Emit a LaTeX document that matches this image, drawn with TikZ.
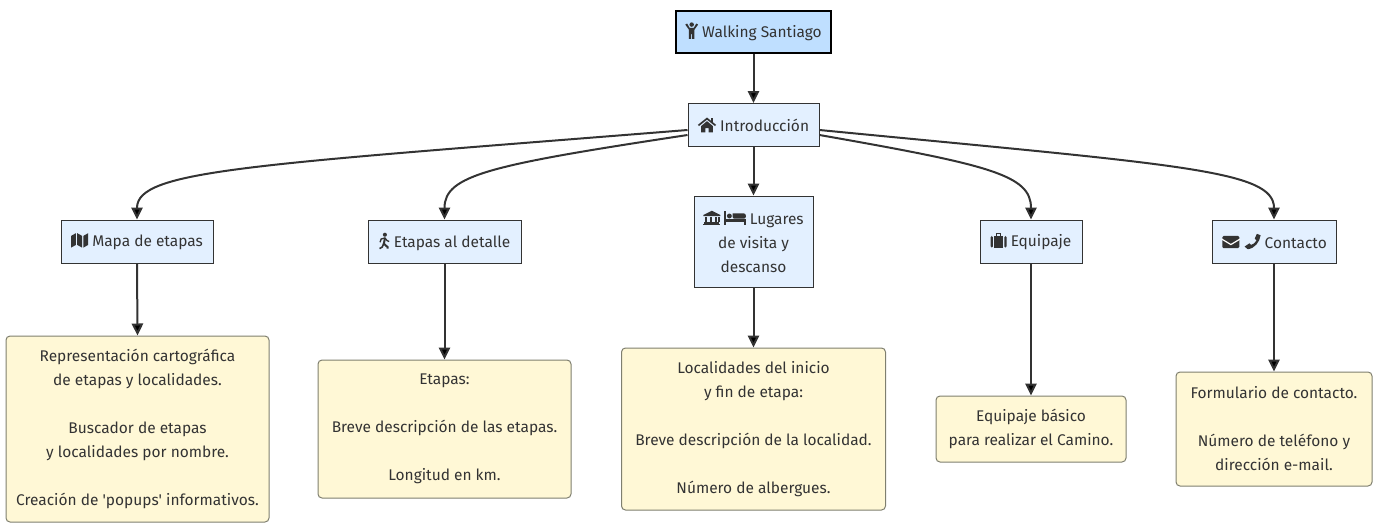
\documentclass[tikz,border=0pt]{standalone}
\usepackage{fontspec}
\setmainfont{Fira Sans}
\usetikzlibrary{arrows.meta}

\definecolor{tinta}{HTML}{333333}
\definecolor{azul}{HTML}{BFDFFF}
\definecolor{celeste}{HTML}{E3F0FF}
\definecolor{crema}{HTML}{FFF8D6}
\definecolor{borde}{HTML}{7F7F6F}

\tikzset{
    every node/.style={text=tinta, font=\fontsize{11.6}{18}\selectfont, align=center, inner sep=0pt},
    titulo/.style={draw=black, line width=1.5pt, fill=azul, minimum width=116.25pt, minimum height=31.5pt},
    seccion/.style={draw=tinta, line width=0.75pt, fill=celeste, minimum height=32.25pt},
    nota/.style={draw=borde, line width=0.75pt, fill=crema, rounded corners=3pt, execute at begin node={\rule{0pt}{12pt}}},
    flecha/.style={draw=tinta, line width=1.5pt, -{Triangle[length=9pt,width=8.5pt]}},
    icono/.style={x=0.8pt, y=0.8pt, baseline=0pt, tinta, fill=tinta}
}

% iconos
\newcommand{\icpersona}{\tikz[icono]{
    \fill (6,12) circle (2.1);
    \fill (0,12)--(1.7,13)--(4,9)--(8,9)--(10.3,13)--(12,12)--(8.6,7.2)--(8.6,-1.5)--(6.5,-1.5)--(6.5,3)--(5.5,3)--(5.5,-1.5)--(3.4,-1.5)--(3.4,7.2)--cycle;
}}
\newcommand{\iccasa}{\tikz[icono]{
    \fill (0,6.2)--(8.5,13)--(17,6.2)--(16,5)--(8.5,11)--(1,5)--cycle;
    \fill (3,5)--(8.5,9.6)--(14,5)--(14,-1)--(10,-1)--(10,3)--(7,3)--(7,-1)--(3,-1)--cycle;
    \fill (12,13)--(14,13)--(14,9)--(12,9)--cycle;
}}
\newcommand{\icmapa}{\tikz[icono]{
    \fill (0,-1)--(0,10)--(4.5,12.5)--(4.5,1.5)--cycle;
    \fill (5.7,1.5)--(5.7,12.5)--(10.3,10)--(10.3,-1)--cycle;
    \fill (11.5,-1)--(11.5,10)--(16,12.5)--(16,1.5)--cycle;
}}
\newcommand{\icandar}{\tikz[icono]{
    \fill (6,11.5) circle (1.9);
    \draw[line width=1.5pt] (6,8)--(5,3)--(8.5,0)--(8.5,-1.5);
    \draw[line width=1.2pt] (5,3.5)--(3.5,0)--(1,-1.5);
    \draw[line width=1pt] (1.5,4.5)--(2.5,7.5)--(6,8.5)--(8,6)--(10,5.2);
}}
\newcommand{\icmuseo}{\tikz[icono]{
    \fill (0,8.5)--(8,12.5)--(16,8.5)--(16,7.5)--(0,7.5)--cycle;
    \foreach \c in {2,6.5,11,14} {\fill (\c-0.1,2)  rectangle +(1.5,5);}
    \fill (1,0.5) rectangle (15,1.7);
    \fill (0,-1) rectangle (16,0);
}}
\newcommand{\iccama}{\tikz[icono]{
    \fill (0,-1) rectangle (1.6,12);
    \fill (4.6,7.6) circle (2.3);
    \fill (7.6,5) -- (7.6,10) -- (17,10) [rounded corners=1.5pt] -- (20,10) -- (20,5) -- cycle;
    \fill (1.6,2) rectangle (20,4.6);
    \fill (18.4,-1) rectangle (20,2);
}}
\newcommand{\icmaleta}{\tikz[icono]{
    \draw[line width=1pt] (5.5,10)--(5.5,12)--(9.5,12)--(9.5,10);
    \fill[rounded corners=1pt] (0,-1) rectangle (2.2,10);
    \fill (3.2,-1) rectangle (11.8,10);
    \fill[rounded corners=1pt] (12.8,-1) rectangle (15,10);
}}
\newcommand{\icsobre}{\tikz[icono]{
    \fill[rounded corners=1pt] (0,0) rectangle (16,11.5);
    \draw[white, line width=0.9pt] (-0.5,8.5)--(8,3.4)--(16.5,8.5);
}}
\newcommand{\ictelefono}{\tikz[icono]{
    \fill (0,1.5)--(3,-1) .. controls (10,0) and (14,6) .. (15,12)--(11.5,13.5)--(9.5,9)--(11.2,7.3) .. controls (10,5) and (8,3.5) .. (6,3)--(4.5,4.5)--cycle;
}}

\begin{document}
\begin{tikzpicture}[x=0.75pt, y=-0.75pt]
\useasboundingbox (0, 0) rectangle (1373, 529);

\node[titulo] (walk) at (753.5, 31.5) {\icpersona\ Walking Santiago};
\node[seccion, minimum width=98.25pt] (intro) at (753.5, 125) {\iccasa\ Introducción};

\node[seccion, minimum width=114pt] (mapa) at (137, 241.5) {\icmapa\ Mapa de etapas};
\node[seccion, minimum width=114.75pt] (etapas) at (444.5, 241.5) {\icandar\ Etapas al detalle};
\node[seccion, minimum width=89.25pt, minimum height=68.25pt] (lugares) at (753.5, 241.5)
    {\icmuseo\ \iccama\ Lugares\\de visita y\\descanso};
\node[seccion, minimum width=76.5pt] (equipaje) at (1031, 241.5) {\icmaleta\ Equipaje};
\node[seccion, minimum width=93pt] (contacto) at (1274, 241.5) {\icsobre\ \ictelefono\ Contacto};

\node[nota, minimum width=197.25pt, minimum height=139.5pt] (mapatxt) at (137.5, 429)
    {Representación cartográfica\\de etapas y localidades.\\[18pt]Buscador de etapas\\y localidades por nombre.\\[18pt]Creación de \textquotesingle popups\textquotesingle{} informativos.};
\node[nota, minimum width=189.75pt, minimum height=103.5pt] (etapastxt) at (444.5, 429)
    {Etapas:\\[18pt]Breve descripción de las etapas.\\[18pt]Longitud en km.};
\node[nota, minimum width=198pt, minimum height=121.5pt] (lugarestxt) at (753.5, 429)
    {Localidades del inicio\\y fin de etapa:\\[18pt]Breve descripción de la localidad.\\[18pt]Número de albergues.};
\node[nota, minimum width=142.5pt, minimum height=49.5pt] (equipajetxt) at (1031, 429)
    {Equipaje básico\\para realizar el Camino.};
\node[nota, minimum width=147pt, minimum height=85.5pt] (contactotxt) at (1274, 429)
    {Formulario de contacto.\\[18pt]Número de teléfono y\\dirección e-mail.};

\foreach \a/\b in {walk/intro, intro/lugares, mapa/mapatxt, etapas/etapastxt,
    lugares/lugarestxt, equipaje/equipajetxt, contacto/contactotxt}
    \draw[flecha] (\a.south) -- (\b.north);

\draw[flecha] ([yshift=-3.75pt]intro.west) .. controls (250, 165) and (137, 170) .. (mapa.north);
\draw[flecha] ([yshift=-7.5pt]intro.west) .. controls (490, 165) and (444.5, 175) .. (etapas.north);
\draw[flecha] ([yshift=-3.75pt]intro.east) .. controls (1180, 165) and (1274, 170) .. (contacto.north);
\draw[flecha] ([yshift=-7.5pt]intro.east) .. controls (990, 165) and (1031, 175) .. (equipaje.north);

\end{tikzpicture}
\end{document}
